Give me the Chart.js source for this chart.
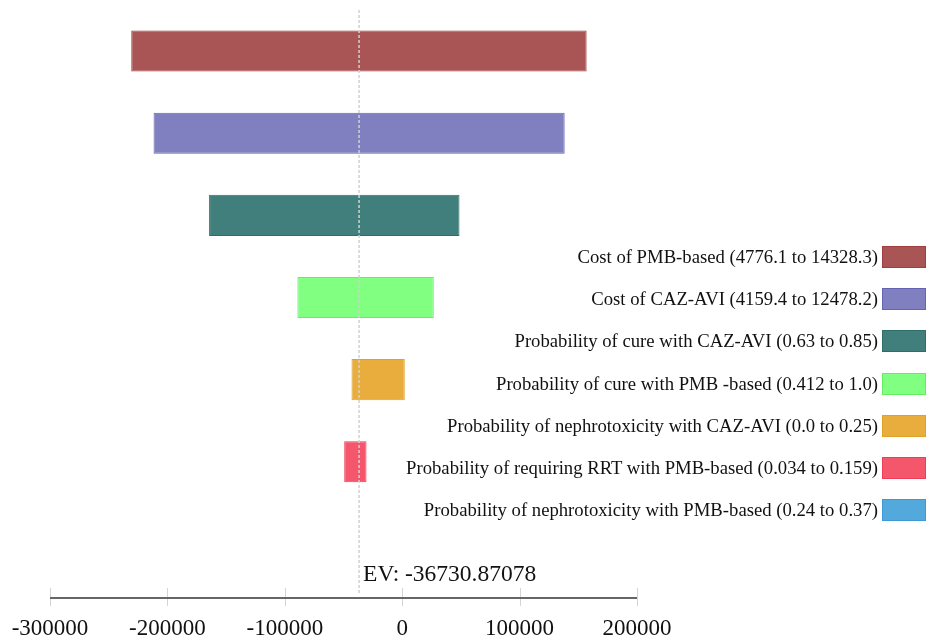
<!DOCTYPE html>
<html>
<head>
<meta charset="utf-8">
<script src="https://cdn.jsdelivr.net/npm/chart.js@4.4.1/dist/chart.umd.min.js"></script>
<style>
  body { margin: 0; background: #fff; }
  #wrap { position: relative; width: 935px; height: 642px; }
  #legend { position: absolute; right: 9px; top: 236px; margin: 0; padding: 0; list-style: none;
            font-family: "Liberation Serif", "Times New Roman", serif; font-size: 18.7px; color: #111; }
  #legend li { display: flex; justify-content: flex-end; align-items: center; height: 42.2px; }
  #legend span.box { display: inline-block; width: 42px; height: 20px; margin-left: 4px; border: 1px solid; }
  #ev { position: absolute; font-family: "Liberation Serif", "Times New Roman", serif; font-size: 23.5px;
        color: #111; white-space: nowrap; transform: translateY(-50%); }
</style>
</head>
<body>
<div id="wrap">
  <canvas id="myChart" width="935" height="642"></canvas>
  <ul id="legend"></ul>
  <div id="ev"></div>
</div>
<script>
const labels = [
  "Cost of PMB-based (4776.1 to 14328.3)",
  "Cost of CAZ-AVI (4159.4 to 12478.2)",
  "Probability of cure with CAZ-AVI (0.63 to 0.85)",
  "Probability of cure with PMB -based (0.412 to 1.0)",
  "Probability of nephrotoxicity with CAZ-AVI (0.0 to 0.25)",
  "Probability of requiring RRT with PMB-based (0.034 to 0.159)",
  "Probability of nephrotoxicity with PMB-based (0.24 to 0.37)"
];
const lowValues = [-230800, -211800, -164500, -89300, -43200, -49400, -36731];
const highValues = [157100, 138400, 48800, 26900, 2200, -30400, -36731];
const ev = -36730.87078;
const xTicks = [-300000, -200000, -100000, 0, 100000, 200000];

const fillColors = ["#A95555", "#8080C1", "#417F7C", "#80FF80", "#E8AD3D", "#F4576C", "#53A8DC"];
const lineColors = ["#A03E3E", "#6464B4", "#2E6E6A", "#62F062", "#E2A225", "#EE3D55", "#3C98D6"];

const ctx = document.getElementById('myChart').getContext('2d');
const serif = '"Liberation Serif", "Times New Roman", serif';

// EV dashed line + custom axis line
const overlay = {
  id: 'overlay',
  afterDatasetsDraw(chart) {
    const { ctx, chartArea, scales: { x } } = chart;
    const axisY = chartArea.bottom + 13;
    ctx.save();
    // ticks crossing the axis
    ctx.strokeStyle = '#d4d4d4';
    ctx.lineWidth = 1;
    xTicks.forEach(v => {
      const px = Math.round(x.getPixelForValue(v)) + 0.5;
      ctx.beginPath();
      ctx.moveTo(px, axisY - 10);
      ctx.lineTo(px, axisY + 8);
      ctx.stroke();
    });
    ctx.strokeStyle = '#666';
    ctx.lineWidth = 2;
    ctx.beginPath();
    ctx.moveTo(x.getPixelForValue(xTicks[0]), axisY);
    ctx.lineTo(x.getPixelForValue(xTicks[xTicks.length - 1]), axisY);
    ctx.stroke();
    // EV line
    const evX = x.getPixelForValue(ev);
    ctx.strokeStyle = '#d0d0d0';
    ctx.lineWidth = 1.5;
    ctx.setLineDash([3, 2]);
    ctx.beginPath();
    ctx.moveTo(evX, chartArea.top);
    ctx.lineTo(evX, axisY - 5);
    ctx.stroke();
    ctx.restore();
  }
};

const chart = new Chart(ctx, {
  type: 'bar',
  data: {
    labels,
    datasets: [{
      data: labels.map((_, i) => [lowValues[i], highValues[i]]),
      backgroundColor: fillColors,
      borderColor: lineColors,
      borderWidth: 1,
      borderSkipped: false,
      categoryPercentage: 1,
      barPercentage: 0.5
    }]
  },
  options: {
    indexAxis: 'y',
    responsive: false,
    animation: false,
    layout: { padding: { left: 50, right: 298, top: 10, bottom: 0 } },
    plugins: { legend: { display: false }, tooltip: { enabled: false } },
    scales: {
      y: { display: false },
      x: {
        min: -300000, max: 200000,
        afterBuildTicks: s => { s.ticks = xTicks.map(v => ({ value: v })); },
        afterFit: s => { s.height = 57; s.paddingLeft = 0; s.paddingRight = 0; },
        grid: { display: false, drawTicks: false },
        border: { display: false },
        ticks: {
          padding: 30, color: '#111', maxRotation: 0,
          font: { family: serif, size: 23 },
          callback: v => String(v)
        }
      }
    }
  },
  plugins: [overlay]
});

// legend
const legend = document.getElementById('legend');
labels.forEach((t, i) => {
  const li = document.createElement('li');
  li.innerHTML = '<span></span><span class="box"></span>';
  li.firstChild.textContent = t;
  li.lastChild.style.background = fillColors[i];
  li.lastChild.style.borderColor = lineColors[i];
  legend.appendChild(li);
});

// EV label
const evEl = document.getElementById('ev');
evEl.textContent = 'EV: ' + ev.toFixed(5);
evEl.style.left = (chart.scales.x.getPixelForValue(ev) + 4) + 'px';
evEl.style.top = (chart.chartArea.bottom - 12) + 'px';
</script>
</body>
</html>
